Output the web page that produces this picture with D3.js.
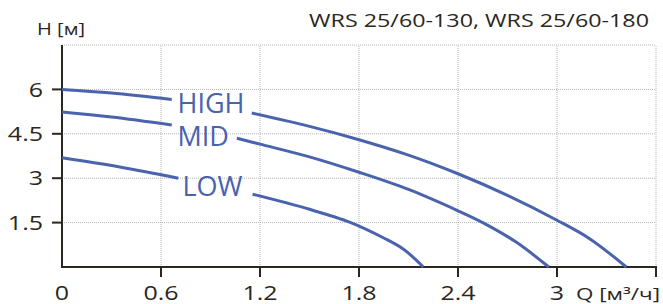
<!DOCTYPE html>
<html>
<head>
<meta charset="utf-8">
<script src="https://cdn.jsdelivr.net/npm/d3@7"></script>
<style>
  body { margin: 0; background: #fff; }
  svg { display: block; font-family: "Open Sans", sans-serif; }
</style>
</head>
<body>
<div id="chart"></div>
<script>
// --- Data; null marks the gap where the label sits ---
const high = [[0, 6.0], [0.3, 5.88], [0.665, 5.66], null, [1.15, 5.2], [1.5, 4.75], [1.8, 4.3], [2.1, 3.78], [2.4, 3.15], [2.7, 2.42], [3.0, 1.58], [3.2, 0.95], [3.42, 0]];
const mid = [[0, 5.24], [0.3, 5.07], [0.665, 4.8], null, [1.06, 4.35], [1.2, 4.15], [1.5, 3.72], [1.8, 3.2], [2.1, 2.62], [2.4, 1.9], [2.55, 1.5], [2.75, 0.85], [2.95, 0]];
const low = [[0, 3.69], [0.35, 3.38], [0.705, 3.0], null, [1.155, 2.46], [1.5, 1.95], [1.75, 1.5], [1.95, 0.98], [2.07, 0.6], [2.19, 0]];
const seriesNames = ["HIGH", "MID", "LOW"];
const labelAt = [[0.7, 5.2], [0.7, 4.1], [0.73, 2.4]]; // label start (Q, baseline H)

const xTicks = [0, 0.6, 1.2, 1.8, 2.4, 3];
const xTickMarks = [0.6, 1.2, 1.8, 2.4, 3, 3.6];
const yTicks = [1.5, 3, 4.5, 6];
const yGrid = [1.5, 3, 4.5, 6, 7.5];
const title = "WRS 25/60-130, WRS 25/60-180";

// --- Setup ---
const width = 663, height = 304;
const ink = "#2b2620", blue = "#4a63ad", grid = "#b5b5b5";
const stretch = 1.25; // the picture's text is drawn wide

const svg = d3.select("#chart").append("svg")
    .attr("width", width).attr("height", height);

const x = d3.scaleLinear().domain([0, 3.6]).range([62, 656]);
const y = d3.scaleLinear().domain([0, 7.5]).range([267, 45]);

// widen a text by a factor, keeping its anchor
function widen(sel, k) {
    sel.each(function() {
        const len = this.getComputedTextLength();
        d3.select(this).attr("textLength", len * k).attr("lengthAdjust", "spacingAndGlyphs");
    });
}

// --- Grid ---
svg.append("g").selectAll("line").data(xTickMarks).join("line")
    .attr("x1", d => x(d)).attr("x2", d => x(d))
    .attr("y1", y(0)).attr("y2", y(7.5))
    .attr("stroke", grid).attr("stroke-width", 1).attr("stroke-dasharray", "1,1");

svg.append("g").selectAll("line").data(yGrid).join("line")
    .attr("x1", x(0)).attr("x2", x(3.6))
    .attr("y1", d => y(d)).attr("y2", d => y(d))
    .attr("stroke", grid).attr("stroke-width", 1).attr("stroke-dasharray", "1,1");

// --- Axes ---
svg.append("line")
    .attr("x1", x(0)).attr("x2", x(0)).attr("y1", y(7.5)).attr("y2", y(0) + 1)
    .attr("stroke", ink).attr("stroke-width", 2);
svg.append("line")
    .attr("x1", x(0) - 1).attr("x2", x(3.6) + 1).attr("y1", y(0)).attr("y2", y(0))
    .attr("stroke", ink).attr("stroke-width", 2);

svg.append("g").selectAll("line").data(xTickMarks).join("line")
    .attr("x1", d => x(d)).attr("x2", d => x(d))
    .attr("y1", y(0)).attr("y2", y(0) + 10)
    .attr("stroke", ink).attr("stroke-width", 2);

svg.append("g").selectAll("line").data(yTicks).join("line")
    .attr("x1", x(0) - 10).attr("x2", x(0))
    .attr("y1", d => y(d)).attr("y2", d => y(d))
    .attr("stroke", ink).attr("stroke-width", 2);

svg.append("g").selectAll("text").data(xTicks).join("text")
    .attr("x", d => x(d)).attr("y", 300)
    .attr("text-anchor", "middle")
    .attr("font-size", 20).attr("fill", ink)
    .text(d => d)
    .call(widen, stretch);

svg.append("g").selectAll("text").data(yTicks).join("text")
    .attr("x", 43).attr("y", d => y(d)).attr("dy", "0.36em")
    .attr("text-anchor", "end")
    .attr("font-size", 20).attr("fill", ink)
    .text(d => d)
    .call(widen, stretch);

// axis titles and header
svg.append("text").attr("x", 37).attr("y", 35)
    .attr("font-size", 16.5).attr("fill", ink).text("H [м]")
    .attr("textLength", 48).attr("lengthAdjust", "spacingAndGlyphs");
svg.append("text").attr("x", 576).attr("y", 299.5)
    .attr("font-size", 16).attr("fill", ink).text("Q [м³/ч]")
    .attr("textLength", 84).attr("lengthAdjust", "spacingAndGlyphs");
svg.append("text").attr("x", 309).attr("y", 26.7)
    .attr("font-size", 18.7).attr("fill", ink).text(title)
    .attr("textLength", 340).attr("lengthAdjust", "spacingAndGlyphs");

// --- Curves ---
const line = d3.line()
    .defined(d => d != null)
    .x(d => x(d[0])).y(d => y(d[1]))
    .curve(d3.curveCatmullRom.alpha(0.5));

svg.append("g").selectAll("path").data([high, mid, low]).join("path")
    .attr("d", line)
    .attr("fill", "none").attr("stroke", blue).attr("stroke-width", 3);

svg.append("g").selectAll("text").data(seriesNames).join("text")
    .attr("x", (d, i) => x(labelAt[i][0]))
    .attr("y", (d, i) => y(labelAt[i][1]))
    .attr("font-size", 27).attr("fill", blue)
    .text(d => d);
</script>
</body>
</html>
